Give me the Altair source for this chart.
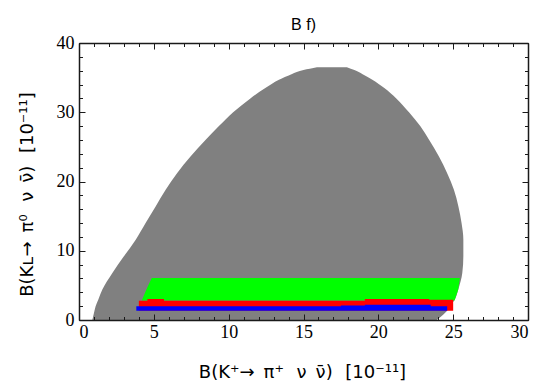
import altair as alt
import pandas as pd

# Gray allowed region: for each y, left and right x boundary
gray_y = [0, 1, 2, 3, 4.4, 6.8, 9.2, 11.6, 14, 16.4, 18.8, 21.2, 23.6, 26, 28, 30, 32, 33.5, 34.7, 35.5, 36.1, 36.5]
gray_left = [0.89, 1.0, 1.11, 1.3, 1.56, 2.23, 3.0, 3.79, 4.45, 5.12, 5.79, 6.55, 7.45, 8.45, 9.35, 10.3, 11.45, 12.45, 13.36, 14.2, 15.0, 15.9]
gray_right = [23.9, 24.45, 24.8, 25.12, 25.34, 25.61, 25.68, 25.68, 25.56, 25.35, 25.05, 24.6, 24.05, 23.4, 22.8, 22.05, 21.2, 20.4, 19.6, 18.95, 18.4, 17.9]

# Green band (horizontal polygon)
green_y = [2.8, 3.0, 4.4, 6.06]
green_left = [4.2, 4.23, 4.5, 4.86]
green_right = [25.1, 25.12, 25.34, 25.45]

# Red band (step top)
red_x = [4.0, 4.57, 5.68, 19.1, 23.4, 25.0]
red_top = [2.79, 3.03, 2.79, 3.03, 2.94, 2.94]
red_bottom = 1.34

# Blue band (step top)
blue_x = [3.83, 17.5, 19.1, 23.5, 24.6]
blue_top = [1.97, 2.1, 2.2, 2.0, 2.0]
blue_bottom = 1.34

x_major = [0, 5, 10, 15, 20, 25, 30]
x_minor = list(range(0, 31))
y_major = [0, 10, 20, 30, 40]
y_minor = list(range(0, 41, 2))

W, H = 449, 277
LABEL_FONT = "Liberation Serif"
TITLE_FONT = "DejaVu Sans"
AX_COLOR = "#1a1a1a"
SP = "\u2002"  # en space (not collapsed in SVG)
TH = "\u2009"  # thin space

x_title = "B(K⁺→" + SP + "π⁺" + SP + TH + "ν" + SP + "ν̄)" + SP + TH + "[10⁻¹¹]"
y_title = "B(Kʟ→" + SP + "π⁰" + SP + TH + "ν" + SP + "ν̄)" + SP + TH + "[10⁻¹¹]"

gray_df = pd.DataFrame({"y": gray_y, "xl": gray_left, "xr": gray_right})
green_df = pd.DataFrame({"y": green_y, "xl": green_left, "xr": green_right})
red_df = pd.DataFrame({"x": red_x, "top": red_top, "bot": [red_bottom] * len(red_x)})
blue_df = pd.DataFrame({"x": blue_x, "top": blue_top, "bot": [blue_bottom] * len(blue_x)})

xs = alt.Scale(domain=[0, 30], nice=False, zero=False)
ys = alt.Scale(domain=[0, 40], nice=False, zero=False)


def tick_axis(orient, offset, values, size, domain):
    return alt.Axis(orient=orient, offset=offset, values=values, tickSize=size,
                    tickColor=AX_COLOR, tickWidth=1, labels=False, domain=domain,
                    domainColor=AX_COLOR, domainWidth=1.5, grid=False, title="", zindex=2)


x_label_axis = alt.Axis(orient="bottom", values=x_major, ticks=False, domain=False, grid=False,
                        labelFont=LABEL_FONT, labelFontSize=18, labelColor="black", labelPadding=3,
                        title=x_title, titleFont=TITLE_FONT, titleFontSize=18,
                        titleFontWeight="normal", titleColor="black", titleX=223, titleY=57,
                        titleAlign="center", titleBaseline="alphabetic", zindex=2)
y_label_axis = alt.Axis(orient="left", values=y_major, ticks=False, domain=False, grid=False,
                        labelFont=LABEL_FONT, labelFontSize=18, labelColor="black", labelPadding=5,
                        title=y_title, titleFont=TITLE_FONT, titleFontSize=18,
                        titleFontWeight="normal", titleColor="black", titleX=-47, titleY=151,
                        titleAngle=-90, titleAlign="center", titleBaseline="alphabetic", zindex=2)

gray = alt.Chart(gray_df).mark_area(orient="horizontal", interpolate="monotone",
                                    color="#808080", opacity=1).encode(
    y=alt.Y("y:Q", scale=ys, axis=y_label_axis),
    x=alt.X("xl:Q", scale=xs, axis=x_label_axis),
    x2="xr:Q",
)

green = alt.Chart(green_df).mark_area(orient="horizontal", color="#00ff00", opacity=1).encode(
    y=alt.Y("y:Q", scale=ys, axis=tick_axis("right", -W, y_major, 6, True)),
    x=alt.X("xl:Q", scale=xs, axis=tick_axis("top", -H, x_major, 6, True)),
    x2="xr:Q",
)

red = alt.Chart(red_df).mark_area(interpolate="step-after", color="#ff0000", opacity=1).encode(
    x=alt.X("x:Q", scale=xs, axis=tick_axis("top", -H, x_minor, 3.5, False)),
    y=alt.Y("top:Q", scale=ys, axis=tick_axis("right", -W, y_minor, 3.5, False)),
    y2="bot:Q",
)

blue = alt.Chart(blue_df).mark_area(interpolate="step-after", color="#0000ff", opacity=1).encode(
    x=alt.X("x:Q", scale=xs, axis=tick_axis("bottom", -H, x_major, 6, True)),
    y=alt.Y("top:Q", scale=ys, axis=tick_axis("left", -W, y_major, 6, True)),
    y2="bot:Q",
)

dummy = alt.Chart(gray_df).mark_point(opacity=0).encode(
    x=alt.X("xl:Q", scale=xs, axis=tick_axis("bottom", -H, x_minor, 3.5, False)),
    y=alt.Y("y:Q", scale=ys, axis=tick_axis("left", -W, y_minor, 3.5, False)),
)

chart = alt.layer(gray, green, red, blue, dummy).resolve_axis(
    x="independent", y="independent"
).properties(
    width=W, height=H,
    title=alt.TitleParams("B f)", font="Liberation Sans", fontSize=16, fontWeight="normal",
                          color="black", anchor="middle", offset=0, dy=-1),
    autosize=alt.AutoSizeParams(type="none"),
    padding={"left": 79, "top": 43, "right": 12, "bottom": 63},
).configure_view(stroke=None).configure(background="white")

chart.save("out.html", embed_options={"renderer": "svg", "actions": False})
